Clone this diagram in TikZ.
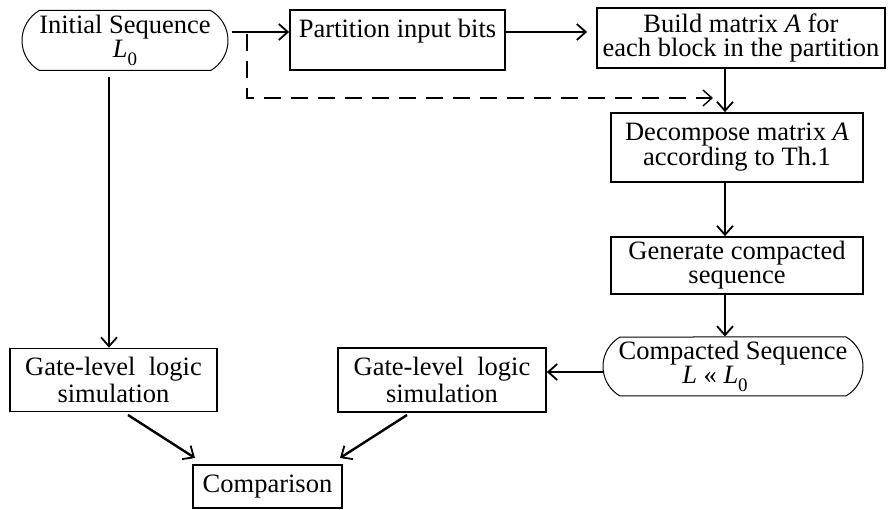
\documentclass[tikz,border=0pt]{standalone}
\usepackage{fontspec}
\setmainfont{Liberation Serif}
\usetikzlibrary{arrows.meta,shapes.misc}
\newcommand{\Lsub}{\textit{L}\raisebox{-0.28em}{\fontsize{19}{19}\selectfont 0}}
\begin{document}
\begin{tikzpicture}[x=1pt,y=-1pt,
  every node/.style={font=\fontsize{26.5}{24}\selectfont, align=center, inner sep=0pt},
  boxnode/.style={draw, line width=1.7pt, rectangle},
  roundnode/.style={draw, line width=1pt, rounded rectangle, rounded rectangle arc length=120},
  arr/.style={line width=2.4pt, -{Straight Barb[length=9pt,width=16pt,line width=1.8pt]}},
  darr/.style={line width=1.6pt, dash pattern=on 17pt off 10pt, -{Straight Barb[length=9pt,width=16pt,line width=1.4pt]}}]
\useasboundingbox (0,0) rectangle (889,510);
\node[roundnode, minimum width=206pt, minimum height=60pt] (init) at (125,40.5) {Initial Sequence\\\Lsub};
\node[boxnode, minimum width=215pt, minimum height=60pt, text height=18pt, text depth=22pt] (part) at (397.5,40) {Partition input bits};
\node[boxnode, minimum width=288pt, minimum height=60pt] (build) at (741,38) {Build matrix \textit{A} for\\each block in the partition};
\node[boxnode, minimum width=252pt, minimum height=69pt] (dec) at (737,147.5) {Decompose matrix \textit{A}\\according to Th.1};
\node[boxnode, minimum width=252pt, minimum height=57pt] (gen) at (737,265.5) {Generate compacted\\sequence};
\node[roundnode, minimum width=260pt, minimum height=59pt] (comp) at (733,366.5) {Compacted Sequence\\\hspace*{-36pt}\textit{L} « \Lsub};
\node[boxnode, minimum width=207pt, minimum height=63pt, font=\fontsize{26.5}{27}\selectfont] (gate1) at (113.5,380) {Gate-level\ \ logic\\simulation};
\node[boxnode, minimum width=208pt, minimum height=64pt, font=\fontsize{26.5}{27}\selectfont] (gate2) at (442,380) {Gate-level\ \ logic\\simulation};
\node[boxnode, minimum width=149pt, minimum height=43pt] (cmpr) at (267.5,486.5) {Comparison};
% helper coordinates
\coordinate (hy1) at (0,32);
\coordinate (vx) at (725,0);
\coordinate (lx) at (109,0);
\coordinate (hy2) at (0,372);
\coordinate (d1) at (247,34);
\coordinate (d2) at (247,98);
\coordinate (d3) at (713,98);
\coordinate (g1s) at (128,415);
\coordinate (g2s) at (407,415);
\coordinate (c1) at (195,458);
\coordinate (c2) at (340,458);
% connectors
\draw[arr, shorten <=3pt] (init.east |- hy1) -- (part.west |- hy1);
\draw[arr, shorten >=9pt] (part.east |- hy1) -- (build.west |- hy1);
\draw[darr] (d1) -- (d2) -- (d3);
\draw[arr] (build.south -| vx) -- (dec.north -| vx);
\draw[arr] (dec.south -| vx) -- (gen.north -| vx);
\draw[arr] (gen.south -| vx) -- (comp.north -| vx);
\draw[arr] (comp.west |- hy2) -- (gate2.east |- hy2);
\draw[arr, shorten <=6pt] (init.south -| lx) -- (gate1.north -| lx);
\draw[arr] (g1s) -- (c1);
\draw[arr] (g2s) -- (c2);
\end{tikzpicture}
\end{document}
